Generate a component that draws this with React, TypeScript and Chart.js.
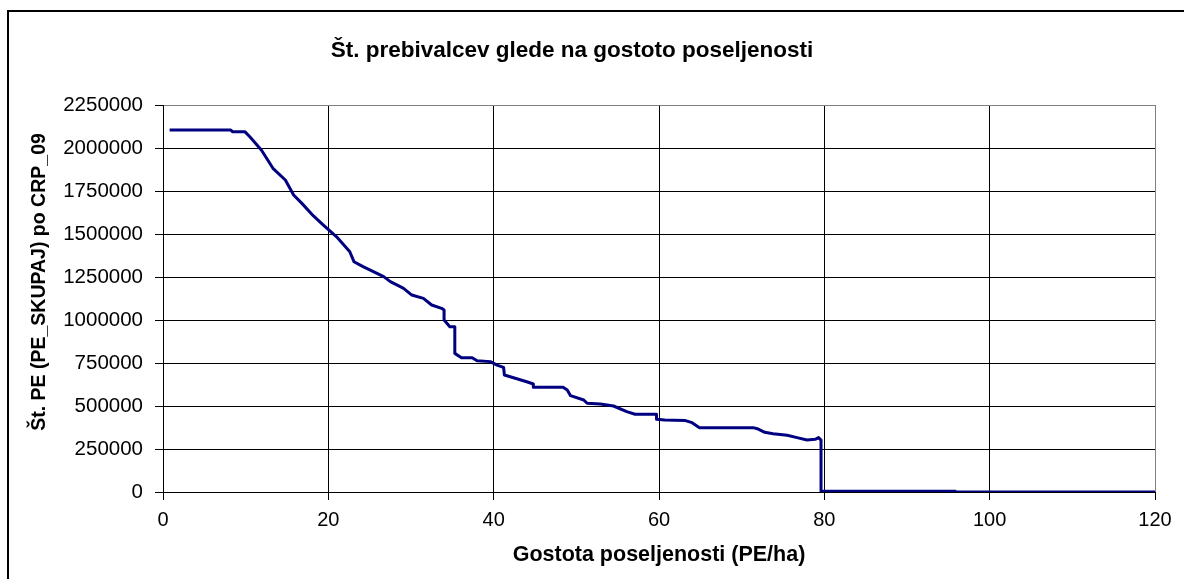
import React, { useEffect, useRef } from "react";
import { Chart, registerables } from "chart.js";

Chart.register(...registerables);

// Gostota poseljenosti (PE/ha)
const gostota = [
  0.8, 8.2, 8.4, 9.9, 10.5, 11.9, 13.3, 14.8, 15.8, 16.8,
  18.2, 19.4, 21.0, 22.6, 23.1, 24.2, 26.7, 27.5, 28.7, 29.1,
  30.1, 31.5, 32.5, 33.7, 34.0, 34.0, 34.7, 35.3, 35.3, 36.1,
  37.4, 38.0, 39.6, 40.4, 41.2, 41.3, 42.6, 44.0, 44.8, 44.8,
  48.4, 48.9, 49.3, 50.9, 51.3, 52.9, 54.5, 56.1, 57.1, 59.7,
  59.7, 60.7, 63.2, 64.0, 64.9, 71.4, 72.0, 72.8, 73.8, 75.5,
  76.7, 77.9, 78.9, 79.3, 79.6, 79.6, 95.8, 96.0, 120,
];

// Št. PE (PE_SKUPAJ) po CRP_09
const prebivalci = [
  2105000, 2105000, 2095000, 2095000, 2065000, 1988000, 1882000, 1814000, 1727000, 1678000,
  1605000, 1552000, 1484000, 1397000, 1339000, 1310000, 1252000, 1223000, 1194000, 1184000,
  1145000, 1126000, 1087000, 1068000, 1058000, 1000000, 961000, 961000, 806000, 781000,
  781000, 763000, 758000, 738000, 725000, 680000, 661000, 641000, 628000, 609000,
  609000, 593000, 560000, 535000, 516000, 512000, 500000, 467000, 452000, 452000,
  423000, 419000, 415000, 403000, 374000, 374000, 366000, 347000, 339000, 330000,
  316000, 302000, 306000, 316000, 302000, 5000, 5000, 0, 0,
];

const xMin = 0;
const xMax = 120;
const xStep = 20;
const yMin = 0;
const yMax = 2250000;
const yStep = 250000;

const chartTitle = "Št. prebivalcev glede na gostoto poseljenosti";
const xTitle = "Gostota poseljenosti (PE/ha)";
const yTitle = "Št. PE (PE_SKUPAJ) po CRP_09";

const FONT = "'Liberation Sans', Arial, sans-serif";

export default function App() {
  const ref = useRef<HTMLCanvasElement>(null);

  useEffect(() => {
    if (!ref.current) return;
    const textPlugin = {
      id: "texts",
      afterDraw(chart: any) {
        const ctx = chart.ctx;
        ctx.save();
        ctx.fillStyle = "#000";
        ctx.textAlign = "center";
        ctx.textBaseline = "alphabetic";
        ctx.font = `bold 22.5px ${FONT}`;
        ctx.fillText(chartTitle, 572, 57);
        ctx.font = `bold 21.5px ${FONT}`;
        ctx.fillText(xTitle, 659, 561);
        ctx.translate(45, 282);
        ctx.rotate(-Math.PI / 2);
        ctx.font = `bold 19.5px ${FONT}`;
        ctx.fillText(yTitle, 0, 0);
        ctx.restore();
      },
    };

    const data = gostota.map((x, i) => ({ x, y: prebivalci[i] }));

    const chart = new Chart(ref.current, {
      type: "line",
      data: {
        datasets: [
          {
            data,
            borderColor: "#000080",
            borderWidth: 3,
            pointRadius: 0,
            tension: 0,
            fill: false,
            borderJoinStyle: "round",
          },
        ],
      },
      options: {
        animation: false,
        responsive: false,
        devicePixelRatio: 1,
        layout: { padding: { top: 105, right: 29, bottom: 0, left: 0 } },
        plugins: {
          legend: { display: false },
          title: { display: false },
          tooltip: { enabled: false },
        },
        scales: {
          x: {
            type: "linear",
            min: xMin,
            max: xMax,
            afterFit: (scale: any) => {
              scale.height = 87;
            },
            ticks: {
              stepSize: xStep,
              color: "#000",
              font: { family: FONT, size: 20 },
              padding: 8,
              maxRotation: 0,
            },
            grid: {
              color: (c: any) => (c.tick && c.tick.value === xMax ? "#808080" : "#000"),
              tickColor: "#000",
              tickLength: 8,
              lineWidth: 1,
            },
            border: { color: "#000", width: 1 },
          },
          y: {
            type: "linear",
            min: yMin,
            max: yMax,
            afterFit: (scale: any) => {
              scale.width = 163;
            },
            ticks: {
              stepSize: yStep,
              color: "#000",
              font: { family: FONT, size: 20.5 },
              padding: 12,
              callback: (v: any) => String(v),
            },
            grid: {
              color: (c: any) => (c.tick && c.tick.value === yMax ? "#808080" : "#000"),
              tickColor: "#000",
              tickLength: 8,
              lineWidth: 1,
            },
            border: { color: "#000", width: 1 },
          },
        },
      },
      plugins: [textPlugin],
    } as any);

    return () => chart.destroy();
  }, []);

  return (
    <div
      style={{
        position: "fixed",
        left: 0,
        top: 0,
        width: 1184,
        height: 579,
        overflow: "hidden",
        background: "#fff",
      }}
    >
      <div
        style={{
          position: "absolute",
          left: 7,
          top: 10,
          width: 1400,
          height: 800,
          border: "2px solid #000",
          boxSizing: "border-box",
        }}
      />
      <canvas
        ref={ref}
        width={1184}
        height={579}
        style={{ position: "absolute", left: 0, top: 0, width: 1184, height: 579 }}
      />
    </div>
  );
}
